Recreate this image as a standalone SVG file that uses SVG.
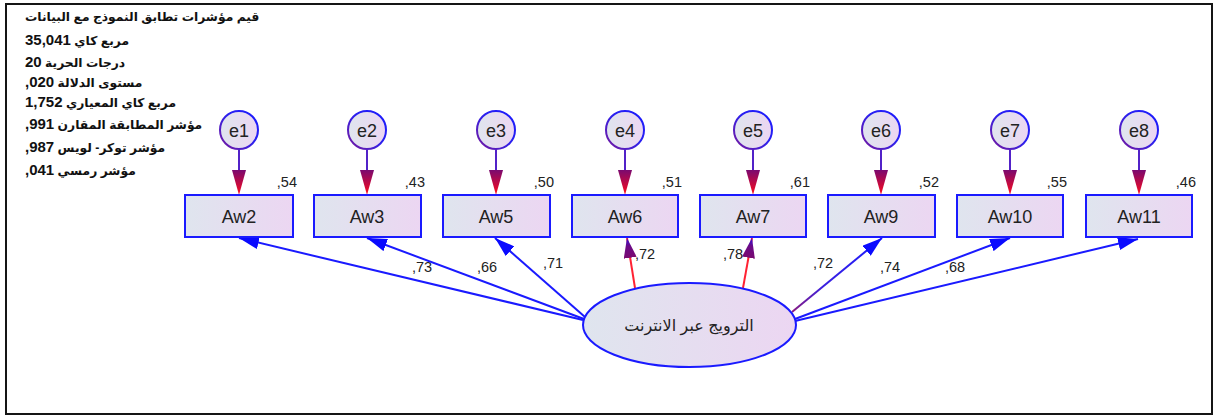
<svg xmlns="http://www.w3.org/2000/svg" width="1215" height="417" viewBox="0 0 1215 417">
  <style>
    .fit { font-family: "Liberation Sans", "DejaVu Sans", sans-serif; font-size: 12.3px; font-weight: bold; fill: #111; }
    .fit .n { font-size: 15px; }
    .obs rect { fill: url(#fillGrad); stroke: #1a1aff; stroke-width: 2; }
    .lbl { font-family: "Liberation Sans", "DejaVu Sans", sans-serif; fill: #222; text-anchor: middle; font-size: 18px; }
    .err circle { fill: url(#fillGrad); stroke: url(#ringGrad); stroke-width: 2; }
    .err line { stroke: #5222c8; stroke-width: 2; }
    .err polygon { fill: url(#errHead); }
    .val { font-family: "Liberation Sans", "DejaVu Sans", sans-serif; font-size: 14.5px; fill: #222; }
    .r2 { text-anchor: end; }
    .load { fill: none; stroke: #1a1aff; stroke-width: 2; marker-end: url(#headBlue); }
    .loadRed { fill: none; stroke: #ff2233; stroke-width: 2; marker-end: url(#headPurple); }
  </style>
  <defs>
    <linearGradient id="fillGrad" x1="0" y1="0" x2="1" y2="0">
      <stop offset="0" stop-color="#dfe5ee"/>
      <stop offset="1" stop-color="#ecd6f2"/>
    </linearGradient>
    <linearGradient id="ringGrad" x1="0" y1="1" x2="1" y2="0">
      <stop offset="0" stop-color="#7a1a9a"/>
      <stop offset="0.55" stop-color="#2a20f0"/>
      <stop offset="1" stop-color="#1a1aff"/>
    </linearGradient>
    <linearGradient id="errHead" x1="0" y1="0" x2="0" y2="1">
      <stop offset="0" stop-color="#7a0a70"/>
      <stop offset="1" stop-color="#ff0a1a"/>
    </linearGradient>
    <linearGradient id="purpleHead" x1="0" y1="0" x2="1" y2="0">
      <stop offset="0" stop-color="#7a0a70"/>
      <stop offset="0.6" stop-color="#6a0a88"/>
      <stop offset="1" stop-color="#2a10e0"/>
    </linearGradient>
    <linearGradient id="aw9Line" gradientUnits="userSpaceOnUse" x1="792" y1="312" x2="882" y2="238">
      <stop offset="0" stop-color="#8a1a80"/>
      <stop offset="0.35" stop-color="#3a20e0"/>
      <stop offset="1" stop-color="#1a1aff"/>
    </linearGradient>
    <marker id="headBlue" markerUnits="userSpaceOnUse" markerWidth="20" markerHeight="13" refX="20" refY="6.5" orient="auto">
      <path d="M0,0 L20,6.5 L0,13 z" fill="#0a0aff"/>
    </marker>
    <marker id="headPurple" markerUnits="userSpaceOnUse" markerWidth="20" markerHeight="13" refX="20" refY="6.5" orient="auto">
      <path d="M0,0 L20,6.5 L0,13 z" fill="url(#purpleHead)"/>
    </marker>
  </defs>

  <rect x="6" y="4" width="1206" height="410" fill="#fff" stroke="#151515" stroke-width="2"/>

  <!-- model fit summary -->
  <g id="fit-summary" class="fit" direction="rtl" text-anchor="end">
    <text x="25" y="21">قيم مؤشرات تطابق النموذج مع البيانات</text>
    <text x="25" y="45">مربع كاي <tspan class="n">35,041</tspan></text>
    <text x="25" y="67">درجات الحرية <tspan class="n">20</tspan></text>
    <text x="25" y="87">مستوى الدلالة <tspan class="n">020,</tspan></text>
    <text x="25" y="107">مربع كاي المعياري <tspan class="n">1,752</tspan></text>
    <text x="25" y="129">مؤشر المطابقة المقارن <tspan class="n">991,</tspan></text>
    <text x="25" y="152">مؤشر توكر- لويس <tspan class="n">987,</tspan></text>
    <text x="25" y="175">مؤشر رمسي <tspan class="n">041,</tspan></text>
  </g>

  <!-- loadings from the latent factor -->
  <g id="connectors">
    <path class="load" d="M583,320 L239,238"/>
    <path class="load" d="M584,319 L367,238"/>
    <path class="load" d="M585,317 L495,238"/>
    <path class="loadRed" d="M635,288 L627,238"/>
    <path class="loadRed" d="M743,288 L752,238"/>
    <path fill="none" stroke="url(#aw9Line)" stroke-width="2" marker-end="url(#headBlue)" d="M792,312 L882,238"/>
    <path class="load" d="M795,319 L1010,238"/>
    <path class="load" d="M795,321 L1138,239"/>
    <g class="val">
      <text x="412" y="272">,73</text>
      <text x="477" y="272">,66</text>
      <text x="543" y="268">,71</text>
      <text x="635" y="259">,72</text>
      <text x="723" y="259">,78</text>
      <text x="813" y="268">,72</text>
      <text x="880" y="272">,74</text>
      <text x="945" y="272">,68</text>
    </g>
  </g>

  <!-- error terms -->
  <g id="e1" class="err"><circle cx="239" cy="130" r="19"/><text class="lbl" x="239" y="137">e1</text><line x1="239" y1="149" x2="239" y2="171"/><polygon points="232,170 246,170 239,195"/></g>
  <g id="e2" class="err"><circle cx="367" cy="130" r="19"/><text class="lbl" x="367" y="137">e2</text><line x1="367" y1="149" x2="367" y2="171"/><polygon points="360,170 374,170 367,195"/></g>
  <g id="e3" class="err"><circle cx="496" cy="130" r="19"/><text class="lbl" x="496" y="137">e3</text><line x1="496" y1="149" x2="496" y2="171"/><polygon points="489,170 503,170 496,195"/></g>
  <g id="e4" class="err"><circle cx="625" cy="130" r="19"/><text class="lbl" x="625" y="137">e4</text><line x1="625" y1="149" x2="625" y2="171"/><polygon points="618,170 632,170 625,195"/></g>
  <g id="e5" class="err"><circle cx="753" cy="130" r="19"/><text class="lbl" x="753" y="137">e5</text><line x1="753" y1="149" x2="753" y2="171"/><polygon points="746,170 760,170 753,195"/></g>
  <g id="e6" class="err"><circle cx="881" cy="130" r="19"/><text class="lbl" x="881" y="137">e6</text><line x1="881" y1="149" x2="881" y2="171"/><polygon points="874,170 888,170 881,195"/></g>
  <g id="e7" class="err"><circle cx="1010" cy="130" r="19"/><text class="lbl" x="1010" y="137">e7</text><line x1="1010" y1="149" x2="1010" y2="171"/><polygon points="1003,170 1017,170 1010,195"/></g>
  <g id="e8" class="err"><circle cx="1139" cy="130" r="19"/><text class="lbl" x="1139" y="137">e8</text><line x1="1139" y1="149" x2="1139" y2="171"/><polygon points="1132,170 1146,170 1139,195"/></g>

  <!-- observed indicators with squared multiple correlations -->
  <g id="Aw2" class="obs"><rect x="185" y="195" width="108" height="42"/><text class="lbl" x="239" y="223">Aw2</text><text class="val r2" x="297" y="187">,54</text></g>
  <g id="Aw3" class="obs"><rect x="314" y="195" width="107" height="42"/><text class="lbl" x="367" y="223">Aw3</text><text class="val r2" x="425" y="187">,43</text></g>
  <g id="Aw5" class="obs"><rect x="443" y="195" width="107" height="42"/><text class="lbl" x="496" y="223">Aw5</text><text class="val r2" x="554" y="187">,50</text></g>
  <g id="Aw6" class="obs"><rect x="572" y="195" width="106" height="42"/><text class="lbl" x="625" y="223">Aw6</text><text class="val r2" x="682" y="187">,51</text></g>
  <g id="Aw7" class="obs"><rect x="700" y="195" width="106" height="42"/><text class="lbl" x="753" y="223">Aw7</text><text class="val r2" x="810" y="187">,61</text></g>
  <g id="Aw9" class="obs"><rect x="828" y="195" width="107" height="42"/><text class="lbl" x="881" y="223">Aw9</text><text class="val r2" x="939" y="187">,52</text></g>
  <g id="Aw10" class="obs"><rect x="957" y="195" width="106" height="42"/><text class="lbl" x="1010" y="223">Aw10</text><text class="val r2" x="1067" y="187">,55</text></g>
  <g id="Aw11" class="obs"><rect x="1086" y="195" width="106" height="42"/><text class="lbl" x="1139" y="223">Aw11</text><text class="val r2" x="1196" y="187">,46</text></g>

  <!-- latent factor -->
  <g id="latent">
    <ellipse cx="689.5" cy="325" rx="106.5" ry="42" fill="url(#fillGrad)" stroke="#1a1aff" stroke-width="2"/>
    <text class="lbl" x="689" y="331" style="font-size:16px" direction="rtl">الترويج عبر الانترنت</text>
  </g>
</svg>
